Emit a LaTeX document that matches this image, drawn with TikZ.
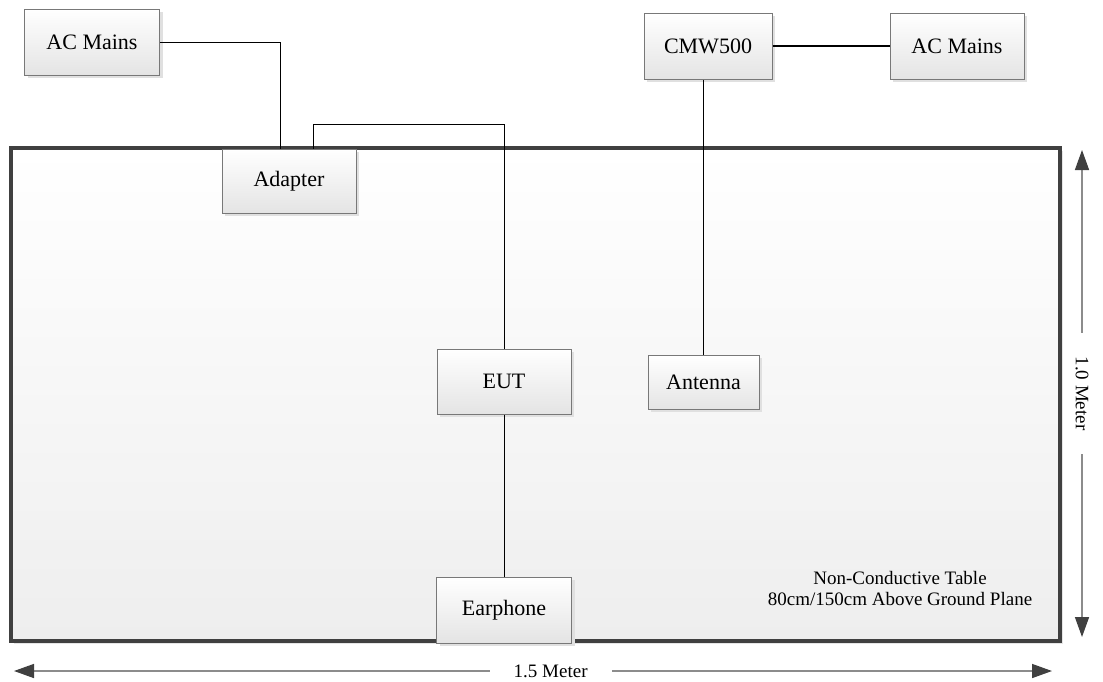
\documentclass[tikz,border=0pt]{standalone}
\usepackage{fontspec}
\setmainfont{Liberation Serif}
\usetikzlibrary{arrows.meta,shadows}
\definecolor{boxedge}{RGB}{120,120,120}
\definecolor{boxshade}{RGB}{228,228,228}
\definecolor{tableedge}{RGB}{64,64,64}
\definecolor{tableshade}{RGB}{238,238,238}
\definecolor{dimline}{RGB}{140,140,140}
\definecolor{dimtip}{RGB}{64,64,64}

\tikzset{
  unit/.style={draw=boxedge, line width=1pt, top color=white, bottom color=boxshade,
    drop shadow={shadow xshift=3pt, shadow yshift=-3pt, fill=black!12, opacity=1},
    inner sep=0pt, font=\fontsize{22}{26}\selectfont},
  tablebox/.style={draw=tableedge, line width=4pt, top color=white, bottom color=tableshade,
    drop shadow={shadow xshift=3pt, shadow yshift=-3pt, fill=black!10, opacity=1},
    inner sep=0pt},
  cable/.style={black, line width=1pt},
  dim/.style={dimline, line width=1.5pt,
    {Triangle[length=20pt,width=14pt,color=dimtip]}-{Triangle[length=20pt,width=14pt,color=dimtip]}},
  dimlabel/.style={fill=white, text=black, inner xsep=24pt, inner ysep=2pt, font=\fontsize{19}{21}\selectfont}
}

\begin{document}
\begin{tikzpicture}[x=1pt, y=-1pt]
  \useasboundingbox (0,0) rectangle (1103,681);

  % Non-conductive table
  \node[tablebox, minimum width=1049pt, minimum height=493pt] (table) at (535.5,394.5) {};
  \node[align=center, font=\fontsize{19}{21}\selectfont] (tabletext) at (900,588)
    {Non-Conductive Table\\80cm/150cm Above Ground Plane};

  % Units
  \node[unit, minimum width=135pt, minimum height=66pt] (mainsL) at (92,42) {AC Mains};
  \node[unit, minimum width=134pt, minimum height=64pt] (adapter) at (289,181) {Adapter};
  \node[unit, minimum width=128pt, minimum height=66pt] (cmw) at (708,46) {CMW500};
  \node[unit, minimum width=134pt, minimum height=66pt] (mainsR) at (957,46) {AC Mains};
  \node[unit, minimum width=134pt, minimum height=65pt] (eut) at (504,381.5) {EUT};
  \node[unit, minimum width=111pt, minimum height=54pt] (antenna) at (703.5,382) {Antenna};

  % Cables
  \draw[cable] (mainsL.east) -| ([xshift=-9pt]adapter.north);
  \draw[cable] ([xshift=24pt]adapter.north) -- ++(0,-24) -| (eut.north);
  \draw[cable, line width=2pt] (cmw.east) -- (mainsR.west);
  \draw[cable] (antenna.north) -- (antenna.north |- cmw.south);
  \draw[cable] (eut.south) -- ++(0,162) coordinate (earjack);

  % Earphone sits on the table edge
  \node[unit, minimum width=135pt, minimum height=66pt, anchor=north] (earphone) at (earjack) {Earphone};

  % Dimensions
  \coordinate (wl) at (14,671);
  \coordinate (wr) at (1052,671);
  \coordinate (ht) at (1082,150);
  \coordinate (hb) at (1082,637);
  \draw[dim] (wl) -- node[dimlabel, pos=0.517] (width) {1.5 Meter} (wr);
  \draw[dim] (ht) -- node[dimlabel, rotate=-90, inner ysep=0pt] (height) {1.0 Meter} (hb);
\end{tikzpicture}
\end{document}
